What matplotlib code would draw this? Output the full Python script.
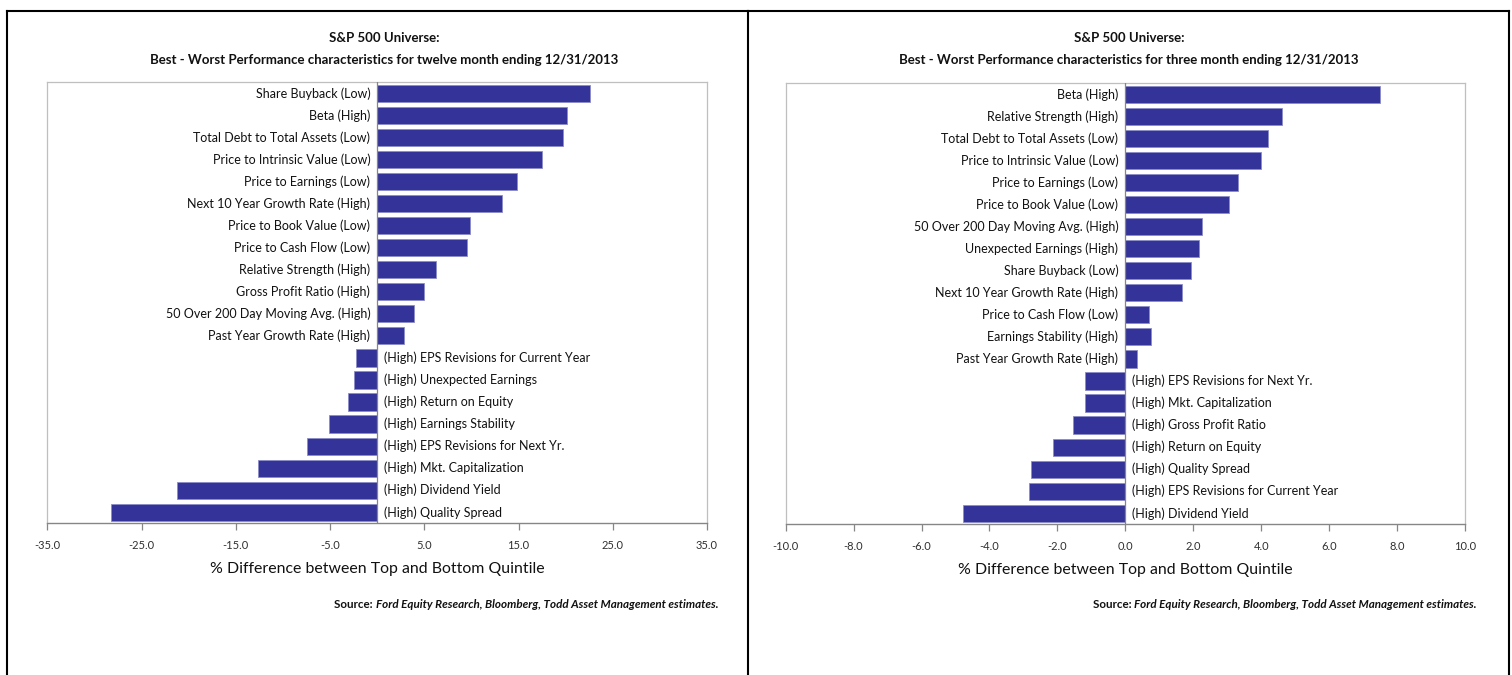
import matplotlib
matplotlib.use("Agg")
import matplotlib.pyplot as plt
from matplotlib.lines import Line2D

FONT = ['Lato', 'DejaVu Sans']
plt.rcParams['font.family'] = FONT

# ---------------- data ----------------
left_title = "S&P 500 Universe:\nBest - Worst Performance characteristics for twelve month ending 12/31/2013"
left_cats = ["Share Buyback (Low)", "Beta (High)", "Total Debt to Total Assets (Low)",
             "Price to Intrinsic Value (Low)", "Price to Earnings (Low)",
             "Next 10 Year Growth Rate (High)", "Price to Book Value (Low)",
             "Price to Cash Flow (Low)", "Relative Strength (High)", "Gross Profit Ratio (High)",
             "50 Over 200 Day Moving Avg. (High)", "Past Year Growth Rate (High)",
             "(High) EPS Revisions for Current Year", "(High) Unexpected Earnings",
             "(High) Return on Equity", "(High) Earnings Stability",
             "(High) EPS Revisions for Next Yr.", "(High) Mkt. Capitalization",
             "(High) Dividend Yield", "(High) Quality Spread"]
left_vals = [22.6, 20.1, 19.7, 17.5, 14.8, 13.2, 9.9, 9.5, 6.2, 5.0, 3.9, 2.8,
             -2.3, -2.5, -3.1, -5.1, -7.4, -12.6, -21.2, -28.3]
left_ticks = [-35, -25, -15, -5, 5, 15, 25, 35]

right_title = "S&P 500 Universe:\nBest - Worst Performance characteristics for three month ending 12/31/2013"
right_cats = ["Beta (High)", "Relative Strength (High)", "Total Debt to Total Assets (Low)",
              "Price to Intrinsic Value (Low)", "Price to Earnings (Low)",
              "Price to Book Value (Low)", "50 Over 200 Day Moving Avg. (High)",
              "Unexpected Earnings (High)", "Share Buyback (Low)",
              "Next 10 Year Growth Rate (High)", "Price to Cash Flow (Low)",
              "Earnings Stability (High)", "Past Year Growth Rate (High)",
              "(High) EPS Revisions for Next Yr.", "(High) Mkt. Capitalization",
              "(High) Gross Profit Ratio", "(High) Return on Equity",
              "(High) Quality Spread", "(High) EPS Revisions for Current Year",
              "(High) Dividend Yield"]
right_vals = [7.50, 4.60, 4.19, 3.99, 3.31, 3.06, 2.24, 2.16, 1.94, 1.68, 0.69, 0.75, 0.35,
              -1.19, -1.19, -1.53, -2.13, -2.79, -2.85, -4.79]
right_ticks = [-10, -8, -6, -4, -2, 0, 2, 4, 6, 8, 10]

xlabel = "% Difference between Top and Bottom Quintile"
source_a = "Source: "
source_b = "Ford Equity Research, Bloomberg, Todd Asset Management estimates."

W, H = 1512, 675
fig = plt.figure(figsize=(W / 100, H / 100), dpi=100)
fig.patch.set_facecolor('white')

BAR = '#333399'
GRID = '#bfbfbf'
AXC = '#868686'


def fx(px):
    return px / W


def fy(py):
    return 1 - py / H


def panel(rect, cats, vals, ticks, title, title_cx, src_right):
    ax = fig.add_axes(rect)
    n = len(cats)
    ys = list(range(n))
    ax.barh(ys, vals, height=0.78, color=BAR, edgecolor='#8c8cc8', linewidth=0.6, zorder=2)
    ax.set_ylim(n - 0.5, -0.5)
    ax.set_xlim(ticks[0], ticks[-1])
    ax.set_xticks(ticks)
    ax.set_xticklabels([f"{t:.1f}" for t in ticks], fontsize=8, color='#303030')
    ax.set_yticks([])
    ax.axvline(0, color=AXC, lw=0.9, zorder=3)
    for s in ['top', 'left', 'right']:
        ax.spines[s].set_color(GRID)
        ax.spines[s].set_linewidth(0.9)
    ax.spines['bottom'].set_color(AXC)
    ax.spines['bottom'].set_linewidth(1.0)
    ax.tick_params(axis='x', direction='out', length=5, width=0.9, color=AXC, pad=7)
    for y, c, v in zip(ys, cats, vals):
        if v >= 0:
            ax.annotate(c, (0, y), xytext=(-5, 0), textcoords='offset points',
                        ha='right', va='center', fontsize=9, color='#111111')
        else:
            ax.annotate(c, (0, y), xytext=(5, 0), textcoords='offset points',
                        ha='left', va='center', fontsize=9, color='#111111')
    ax.set_xlabel(xlabel, fontsize=11.4, color='#111111', labelpad=8)
    t1, t2 = title.split("\n")
    fig.text(fx(title_cx), fy(38), t1, ha='center', va='center', fontsize=9.5,
             fontweight='bold', color='#111111')
    fig.text(fx(title_cx), fy(60), t2, ha='center', va='center', fontsize=9.5,
             fontweight='bold', color='#111111')
    tb = fig.text(fx(src_right), fy(604), source_b, ha='right', va='center', fontsize=8.4,
                  fontweight='bold', fontstyle='italic', color='#111111')
    fig.canvas.draw()
    bb = tb.get_window_extent()
    fig.text(bb.x0 / W, fy(604), source_a, ha='right', va='center', fontsize=8.4,
             fontweight='bold', color='#111111')
    return ax


panel([fx(47.4), fy(523.3), fx(707) - fx(47.4), fy(82.3) - fy(523.3)],
      left_cats, left_vals, left_ticks, left_title, 384, 718)
panel([fx(785.6), fy(524.3), fx(1465.2) - fx(785.6), fy(83.3) - fy(524.3)],
      right_cats, right_vals, right_ticks, right_title, 1129, 1477)

# panel borders
for (x0, y0, x1, y1) in [(7, 11, 748, 11), (7, 11, 7, 675), (748, 11, 748, 675),
                         (748, 11, 1509, 11), (1509, 11, 1509, 675)]:
    fig.add_artist(Line2D([fx(x0), fx(x1)], [fy(y0), fy(y1)], color='black', lw=1.5))

fig.savefig("out.png", dpi=100, facecolor='white')
